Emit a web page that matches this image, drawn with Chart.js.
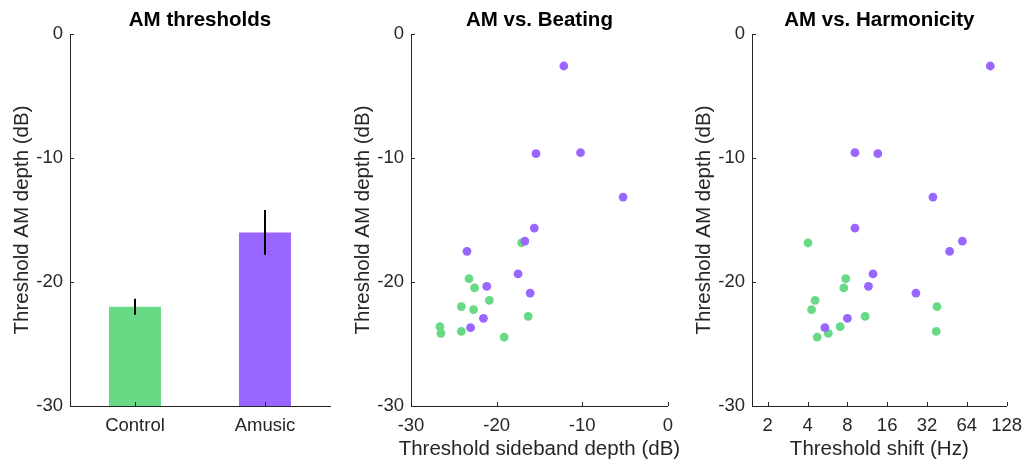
<!DOCTYPE html>
<html>
<head>
<meta charset="utf-8">
<script src="https://cdn.jsdelivr.net/npm/chart.js@4"></script>
<style>
  body { margin: 0; background: #fff; }
  .panel { position: absolute; top: 0; height: 463px; }
</style>
</head>
<body>
<div class="panel" style="left:0;width:341px"><canvas id="barChart"></canvas></div>
<div class="panel" style="left:341px;width:341px"><canvas id="beatChart"></canvas></div>
<div class="panel" style="left:682px;width:349px"><canvas id="harmChart"></canvas></div>
<script>
// group means (AM threshold, dB) and error bars
const groups = ['Control', 'Amusic'];
const meanDepth = [-22.0, -16.0];
const semDepth = [0.65, 1.8];

// individual subjects: AM depth (dB)
const ctrlDepth = [-16.85, -19.73, -20.48, -21.48, -21.99, -22.23, -22.77, -23.6, -24.14, -23.98, -24.44];
const amusDepth = [-2.58, -9.57, -9.65, -13.15, -15.65, -16.7, -17.53, -19.35, -20.35, -20.89, -22.93, -23.68];

// beating: sideband depth threshold (dB)
const ctrlSideband = [-17.08, -23.23, -22.58, -20.85, -24.12, -22.69, -16.31, -26.62, -26.5, -24.12, -19.12];
const amusSideband = [-12.15, -10.2, -15.4, -5.23, -15.6, -16.7, -23.46, -17.5, -21.15, -16.08, -21.54, -23.04];

// harmonicity: shift threshold (Hz)
const ctrlShift = [4.03, 7.78, 7.52, 4.56, 38.1, 4.29, 10.9, 7.06, 5.74, 37.6, 4.73];
const amusShift = [96.4, 9.13, 13.6, 35.5, 9.13, 59.3, 47.5, 12.5, 11.55, 26.4, 8.0, 5.41];

const depthTicks = [0, -10, -20, -30];
const sidebandTicks = [-30, -20, -10, 0];
const shiftTicks = [2, 4, 8, 16, 32, 64, 128];

const green = '#68d984';
const purple = '#9966ff';
const ink = '#262626';
const fontFam = '"Liberation Sans", Arial, Helvetica, sans-serif';

Chart.defaults.font.family = fontFam;
Chart.defaults.color = ink;
Chart.defaults.animation = false;

const pts = (xs, ys) => xs.map((x, i) => ({ x: x, y: ys[i] }));

// MATLAB style inward tick marks
const inwardTicks = {
  id: 'inwardTicks',
  afterDraw(chart) {
    const ctx = chart.ctx, area = chart.chartArea;
    ctx.save();
    ctx.strokeStyle = ink;
    ctx.lineWidth = 1;
    ctx.beginPath();
    chart.scales.x.ticks.forEach((t, i) => {
      const px = Math.round(chart.scales.x.getPixelForTick(i)) + 0.5;
      ctx.moveTo(px, area.bottom);
      ctx.lineTo(px, area.bottom - 4);
    });
    chart.scales.y.ticks.forEach((t, i) => {
      const py = Math.round(chart.scales.y.getPixelForTick(i)) + 0.5;
      ctx.moveTo(area.left, py);
      ctx.lineTo(area.left + 4, py);
    });
    ctx.stroke();
    ctx.restore();
  }
};

// title + x label centred on the axes box (not the canvas), not squeezed
const panelText = {
  id: 'panelText',
  afterDraw(chart, args, opts) {
    const ctx = chart.ctx, area = chart.chartArea;
    const cx = (area.left + area.right) / 2;
    ctx.save();
    ctx.textAlign = 'center';
    ctx.textBaseline = 'middle';
    if (opts.title) {
      ctx.fillStyle = '#000';
      ctx.font = 'bold 20.5px ' + fontFam;
      ctx.fillText(opts.title, cx, 20.5);
    }
    if (opts.xTitle) {
      ctx.fillStyle = ink;
      ctx.font = '20.5px ' + fontFam;
      ctx.fillText(opts.xTitle, cx, 449);
    }
    ctx.restore();
  }
};

const errorBars = {
  id: 'errorBars',
  afterDatasetsDraw(chart) {
    const ctx = chart.ctx, xs = chart.scales.x, ys = chart.scales.y;
    ctx.save();
    ctx.strokeStyle = '#000';
    ctx.lineWidth = 2;
    meanDepth.forEach((m, i) => {
      const px = xs.getPixelForValue(i);
      ctx.beginPath();
      ctx.moveTo(px, ys.getPixelForValue(m + semDepth[i]));
      ctx.lineTo(px, ys.getPixelForValue(m - semDepth[i]));
      ctx.stroke();
    });
    ctx.restore();
  }
};

function depthAxis() {
  return {
    min: -30, max: 0,
    afterBuildTicks: s => { s.ticks = depthTicks.map(v => ({ value: v })); },
    afterFit: s => { s.width = 70; },
    grid: { display: false, drawTicks: false },
    border: { display: true, color: ink, width: 1 },
    ticks: { padding: 7, font: { size: 18.5 }, color: ink },
    title: { display: true, text: 'Threshold AM depth (dB)', font: { size: 20.5 }, color: ink, padding: { top: 10.5, bottom: 0 } }
  };
}

function scatterSets(xa, xc) {
  return [
    { data: pts(xa, amusDepth), backgroundColor: purple, borderWidth: 0, pointRadius: 4.4 },
    { data: pts(xc, ctrlDepth), backgroundColor: green, borderWidth: 0, pointRadius: 4.4 }
  ];
}

const basePlugins = (title, xTitle) => ({
  legend: { display: false },
  tooltip: { enabled: false },
  panelText: { title: title, xTitle: xTitle }
});

new Chart(document.getElementById('barChart'), {
  type: 'bar',
  data: {
    labels: groups,
    datasets: [{
      data: meanDepth,
      base: -30,
      backgroundColor: [green, purple],
      borderWidth: 0,
      categoryPercentage: 1,
      barPercentage: 0.4
    }]
  },
  options: {
    responsive: true,
    maintainAspectRatio: false,
    layout: { padding: { left: 0, right: 11, top: 34, bottom: 0 } },
    plugins: basePlugins('AM thresholds', null),
    scales: {
      x: {
        afterFit: s => { s.height = 57; },
        grid: { display: false, drawTicks: false },
        border: { display: true, color: ink, width: 1 },
        ticks: { padding: 9, font: { size: 18.5 }, color: ink }
      },
      y: depthAxis()
    }
  },
  plugins: [errorBars, inwardTicks, panelText]
});

new Chart(document.getElementById('beatChart'), {
  type: 'scatter',
  data: { datasets: scatterSets(amusSideband, ctrlSideband) },
  options: {
    responsive: true,
    maintainAspectRatio: false,
    layout: { padding: { left: 0, right: 11, top: 34, bottom: 0 } },
    plugins: basePlugins('AM vs. Beating', 'Threshold sideband depth (dB)'),
    scales: {
      x: {
        type: 'linear',
        min: -30, max: 0,
        afterBuildTicks: s => { s.ticks = sidebandTicks.map(v => ({ value: v })); },
        afterFit: s => { s.height = 57; },
        grid: { display: false, drawTicks: false },
        border: { display: true, color: ink, width: 1 },
        ticks: { padding: 9, font: { size: 18.5 }, color: ink, maxRotation: 0 }
      },
      y: depthAxis()
    }
  },
  plugins: [inwardTicks, panelText]
});

new Chart(document.getElementById('harmChart'), {
  type: 'scatter',
  data: { datasets: scatterSets(amusShift, ctrlShift) },
  options: {
    responsive: true,
    maintainAspectRatio: false,
    layout: { padding: { left: 0, right: 19, top: 34, bottom: 0 } },
    plugins: basePlugins('AM vs. Harmonicity', 'Threshold shift (Hz)'),
    scales: {
      x: {
        type: 'logarithmic',
        min: 1.52, max: 128,
        afterBuildTicks: s => { s.ticks = shiftTicks.map(v => ({ value: v })); },
        afterFit: s => { s.height = 57; },
        grid: { display: false, drawTicks: false },
        border: { display: true, color: ink, width: 1 },
        ticks: { padding: 9, font: { size: 18.5 }, color: ink, maxRotation: 0, autoSkip: false, callback: v => String(v) }
      },
      y: depthAxis()
    }
  },
  plugins: [inwardTicks, panelText]
});
</script>
</body>
</html>
